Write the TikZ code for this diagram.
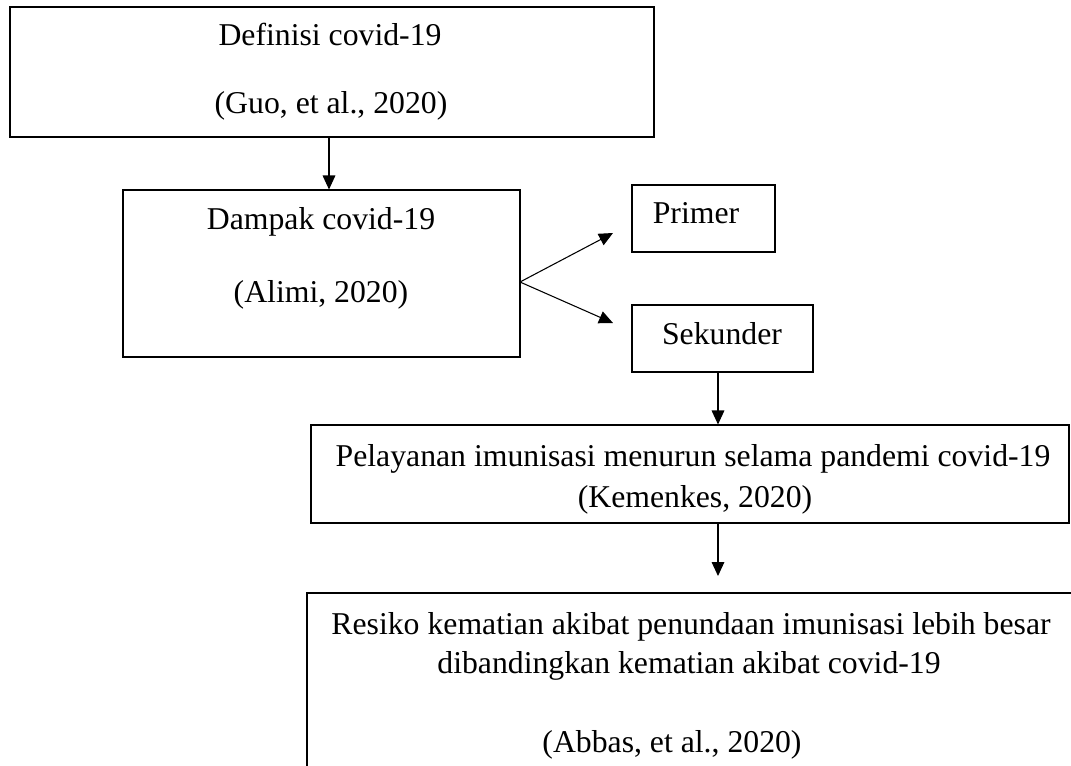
\documentclass[tikz,border=0pt]{standalone}
\usepackage{fontspec}
\setmainfont{Liberation Serif}
\usetikzlibrary{arrows.meta}
\begin{document}
\begin{tikzpicture}[x=0.75pt,y=-0.75pt,
  box/.style={draw,line width=0.8pt,inner sep=0pt},
  txt/.style={inner sep=0pt,anchor=base,font=\fontsize{23.8}{28}\selectfont},
  arr/.style={line width=0.8pt,-{Triangle[length=10.5pt,width=9.5pt]}}]
\useasboundingbox (0,0) rectangle (1071,765);
% boxes
\node[box,minimum width=644*0.75pt,minimum height=130*0.75pt] (def) at (332,72) {};
\node[box,minimum width=397*0.75pt,minimum height=167*0.75pt] (dam) at (321.5,273.5) {};
\node[box,minimum width=143*0.75pt,minimum height=67*0.75pt] (pri) at (703.5,218.5) {};
\node[box,minimum width=181*0.75pt,minimum height=67*0.75pt] (sek) at (722.5,338.5) {};
\node[box,minimum width=758*0.75pt,minimum height=98*0.75pt] (pel) at (690,474) {};
\node[box,minimum width=800*0.75pt,minimum height=200*0.75pt] (res) at (707,693) {};
% texts
\node[txt] (t1a) at (330,45) {Definisi covid-19};
\node[txt] (t1b) at (331,113) {(Guo, et al., 2020)};
\node[txt] (t2a) at (321,229) {Dampak covid-19};
\node[txt] (t2b) at (321,302) {(Alimi, 2020)};
\node[txt] (t3) at (696,223) {Primer};
\node[txt] (t4) at (722,344) {Sekunder};
\node[txt] (t5a) at (693,466) {Pelayanan imunisasi menurun selama pandemi covid-19};
\node[txt] (t5b) at (695,507) {(Kemenkes, 2020)};
\node[txt] (t6a) at (691,634) {Resiko kematian akibat penundaan imunisasi lebih besar};
\node[txt] (t6b) at (689,673) {dibandingkan kematian akibat covid-19};
\node[txt] (t6c) at (672,752) {(Abbas, et al., 2020)};
% connector points
\coordinate (c1) at (329,0);
\coordinate (c2) at (718,0);
\coordinate (s) at (520,282);
\coordinate (tp) at (613,233);
\coordinate (ts) at (613,323);
\coordinate (e4) at (718,576);
% arrows
\draw[arr] (c1 |- def.south) -- (c1 |- dam.north);
\draw[arr] (s) -- (tp);
\draw[arr] (s) -- (ts);
\draw[arr] (c2 |- sek.south) -- (c2 |- pel.north);
\draw[arr] (c2 |- pel.south) -- (e4);
\end{tikzpicture}
\end{document}
